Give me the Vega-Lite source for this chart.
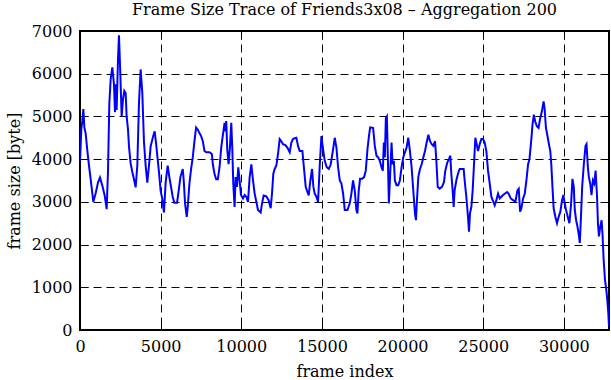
{
  "$schema": "https://vega.github.io/schema/vega-lite/v6.json",
  "width": 529,
  "height": 299,
  "autosize": "none",
  "padding": {"left": 80, "top": 31, "right": 2, "bottom": 50},
  "background": "white",
  "config": {
    "font": "DejaVu Serif",
    "view": {"stroke": "black", "strokeWidth": 2},
    "axis": {"labelFont": "DejaVu Serif", "titleFont": "DejaVu Serif", "labelFontSize": 16, "titleFontSize": 16, "titleFontWeight": "normal", "labelColor": "black", "titleColor": "black"}
  },
  "title": {"text": "Frame Size Trace of Friends3x08 – Aggregation 200", "font": "DejaVu Serif", "fontSize": 16, "fontWeight": "normal", "color": "black", "anchor": "middle", "offset": 5},
  "data": {"values": [
    {"frame": 0, "size": 3950}, {"frame": 83, "size": 4700}, {"frame": 145, "size": 4900}, {"frame": 207, "size": 5170}, {"frame": 269, "size": 4750}, {"frame": 351, "size": 4600}, {"frame": 455, "size": 4200}, {"frame": 558, "size": 3850}, {"frame": 661, "size": 3530}, {"frame": 764, "size": 3200}, {"frame": 826, "size": 3000}, {"frame": 971, "size": 3200}, {"frame": 1116, "size": 3450}, {"frame": 1240, "size": 3570}, {"frame": 1384, "size": 3380}, {"frame": 1529, "size": 3150}, {"frame": 1653, "size": 2830}, {"frame": 1735, "size": 3700}, {"frame": 1818, "size": 5300}, {"frame": 1901, "size": 5870}, {"frame": 2004, "size": 6150}, {"frame": 2107, "size": 5750}, {"frame": 2169, "size": 5100}, {"frame": 2211, "size": 5750}, {"frame": 2273, "size": 5150}, {"frame": 2355, "size": 6330}, {"frame": 2417, "size": 6900}, {"frame": 2500, "size": 6000}, {"frame": 2583, "size": 5000}, {"frame": 2665, "size": 5400}, {"frame": 2748, "size": 5600}, {"frame": 2830, "size": 5550}, {"frame": 2892, "size": 5000}, {"frame": 2975, "size": 4700}, {"frame": 3037, "size": 4300}, {"frame": 3140, "size": 3900}, {"frame": 3244, "size": 3700}, {"frame": 3347, "size": 3530}, {"frame": 3450, "size": 3340}, {"frame": 3554, "size": 3850}, {"frame": 3657, "size": 5320}, {"frame": 3760, "size": 6100}, {"frame": 3863, "size": 5550}, {"frame": 3967, "size": 4400}, {"frame": 4070, "size": 3850}, {"frame": 4173, "size": 3450}, {"frame": 4277, "size": 3850}, {"frame": 4380, "size": 4300}, {"frame": 4545, "size": 4550}, {"frame": 4628, "size": 4650}, {"frame": 4710, "size": 4400}, {"frame": 4793, "size": 4080}, {"frame": 4896, "size": 3700}, {"frame": 5000, "size": 3260}, {"frame": 5103, "size": 3070}, {"frame": 5206, "size": 2750}, {"frame": 5310, "size": 3450}, {"frame": 5436, "size": 3850},
    {"frame": 5540, "size": 3580}, {"frame": 5644, "size": 3350}, {"frame": 5747, "size": 3120}, {"frame": 5851, "size": 2980}, {"frame": 6017, "size": 2980}, {"frame": 6121, "size": 3270}, {"frame": 6225, "size": 3580}, {"frame": 6370, "size": 3770}, {"frame": 6432, "size": 3500}, {"frame": 6515, "size": 2960}, {"frame": 6619, "size": 2650}, {"frame": 6681, "size": 2880}, {"frame": 6785, "size": 3430}, {"frame": 6889, "size": 3770}, {"frame": 6992, "size": 4040}, {"frame": 7096, "size": 4420}, {"frame": 7200, "size": 4740}, {"frame": 7304, "size": 4690}, {"frame": 7407, "size": 4610}, {"frame": 7511, "size": 4540}, {"frame": 7615, "size": 4420}, {"frame": 7719, "size": 4190}, {"frame": 7822, "size": 4160}, {"frame": 8030, "size": 4160}, {"frame": 8175, "size": 4120}, {"frame": 8237, "size": 3880}, {"frame": 8341, "size": 3650}, {"frame": 8445, "size": 3530}, {"frame": 8548, "size": 3530}, {"frame": 8652, "size": 3810}, {"frame": 8756, "size": 4270}, {"frame": 8860, "size": 4570}, {"frame": 8964, "size": 4850}, {"frame": 9026, "size": 4650}, {"frame": 9067, "size": 4890}, {"frame": 9130, "size": 4230}, {"frame": 9213, "size": 3880}, {"frame": 9296, "size": 4270}, {"frame": 9379, "size": 4850}, {"frame": 9441, "size": 4270}, {"frame": 9503, "size": 3430}, {"frame": 9586, "size": 2880}, {"frame": 9648, "size": 3580}, {"frame": 9731, "size": 3350}, {"frame": 9814, "size": 3810}, {"frame": 9897, "size": 3500}, {"frame": 9980, "size": 3160}, {"frame": 10105, "size": 3080}, {"frame": 10209, "size": 3160}, {"frame": 10312, "size": 3120}, {"frame": 10416, "size": 3000}, {"frame": 10520, "size": 3580}, {"frame": 10624, "size": 3880}, {"frame": 10727, "size": 3500}, {"frame": 10831, "size": 3190}, {"frame": 10935, "size": 3000},
    {"frame": 11035, "size": 2810}, {"frame": 11201, "size": 2750}, {"frame": 11283, "size": 2960}, {"frame": 11387, "size": 3150}, {"frame": 11553, "size": 3130}, {"frame": 11697, "size": 3040}, {"frame": 11822, "size": 2850}, {"frame": 11904, "size": 3190}, {"frame": 11987, "size": 3660}, {"frame": 12070, "size": 3770}, {"frame": 12174, "size": 3850}, {"frame": 12277, "size": 4120}, {"frame": 12381, "size": 4470}, {"frame": 12484, "size": 4420}, {"frame": 12588, "size": 4350}, {"frame": 12732, "size": 4330}, {"frame": 12857, "size": 4270}, {"frame": 13002, "size": 4160}, {"frame": 13105, "size": 4390}, {"frame": 13209, "size": 4470}, {"frame": 13312, "size": 4490}, {"frame": 13416, "size": 4500}, {"frame": 13519, "size": 4310}, {"frame": 13623, "size": 4190}, {"frame": 13788, "size": 4190}, {"frame": 13892, "size": 3770}, {"frame": 13995, "size": 3350}, {"frame": 14099, "size": 3230}, {"frame": 14181, "size": 3150}, {"frame": 14285, "size": 3500}, {"frame": 14388, "size": 3770}, {"frame": 14471, "size": 3350}, {"frame": 14554, "size": 3190}, {"frame": 14658, "size": 3120}, {"frame": 14761, "size": 3000}, {"frame": 14865, "size": 3850}, {"frame": 14968, "size": 4540}, {"frame": 15072, "size": 4230}, {"frame": 15175, "size": 3960}, {"frame": 15299, "size": 3810}, {"frame": 15423, "size": 3770}, {"frame": 15547, "size": 3880}, {"frame": 15692, "size": 4230}, {"frame": 15796, "size": 4500}, {"frame": 15900, "size": 4270}, {"frame": 16003, "size": 3810}, {"frame": 16107, "size": 3500}, {"frame": 16210, "size": 3430}, {"frame": 16314, "size": 3190}, {"frame": 16417, "size": 2810}, {"frame": 16583, "size": 2810},
    {"frame": 16723, "size": 2960}, {"frame": 16826, "size": 3190}, {"frame": 16930, "size": 3500}, {"frame": 17034, "size": 3270}, {"frame": 17138, "size": 2810}, {"frame": 17200, "size": 2730}, {"frame": 17283, "size": 3270}, {"frame": 17366, "size": 3540}, {"frame": 17491, "size": 3540}, {"frame": 17615, "size": 3580}, {"frame": 17719, "size": 3730}, {"frame": 17823, "size": 4230}, {"frame": 17926, "size": 4570}, {"frame": 17989, "size": 4740}, {"frame": 18072, "size": 4740}, {"frame": 18175, "size": 4730}, {"frame": 18279, "size": 4310}, {"frame": 18383, "size": 4080}, {"frame": 18487, "size": 4040}, {"frame": 18590, "size": 3960}, {"frame": 18694, "size": 3810}, {"frame": 18777, "size": 3730}, {"frame": 18839, "size": 4390}, {"frame": 18901, "size": 4040}, {"frame": 18964, "size": 4960}, {"frame": 19026, "size": 5000}, {"frame": 19088, "size": 4040}, {"frame": 19150, "size": 2960}, {"frame": 19233, "size": 3660}, {"frame": 19317, "size": 4390}, {"frame": 19379, "size": 3880}, {"frame": 19462, "size": 3960}, {"frame": 19524, "size": 3500}, {"frame": 19628, "size": 3390}, {"frame": 19731, "size": 3390}, {"frame": 19835, "size": 3500}, {"frame": 19939, "size": 3810}, {"frame": 20043, "size": 4040}, {"frame": 20146, "size": 4160}, {"frame": 20250, "size": 4270}, {"frame": 20354, "size": 4500}, {"frame": 20458, "size": 4190}, {"frame": 20561, "size": 3810}, {"frame": 20665, "size": 3270}, {"frame": 20769, "size": 2730}, {"frame": 20831, "size": 2570}, {"frame": 20893, "size": 3040}, {"frame": 20976, "size": 3580}, {"frame": 21080, "size": 3770}, {"frame": 21184, "size": 3880}, {"frame": 21288, "size": 4040}, {"frame": 21391, "size": 4190}, {"frame": 21495, "size": 4390}, {"frame": 21599, "size": 4570}, {"frame": 21703, "size": 4420}, {"frame": 21806, "size": 4350}, {"frame": 21910, "size": 4310}, {"frame": 22014, "size": 4420}, {"frame": 22097, "size": 3960}, {"frame": 22180, "size": 3350},
    {"frame": 22298, "size": 3310}, {"frame": 22442, "size": 3350}, {"frame": 22567, "size": 3460}, {"frame": 22649, "size": 3730}, {"frame": 22774, "size": 3920}, {"frame": 22877, "size": 4000}, {"frame": 22960, "size": 4080}, {"frame": 23022, "size": 3660}, {"frame": 23105, "size": 3270}, {"frame": 23167, "size": 2880}, {"frame": 23229, "size": 3270}, {"frame": 23333, "size": 3500}, {"frame": 23436, "size": 3660}, {"frame": 23540, "size": 3770}, {"frame": 23684, "size": 3770}, {"frame": 23788, "size": 3770}, {"frame": 23850, "size": 3500}, {"frame": 23954, "size": 3120}, {"frame": 24057, "size": 2650}, {"frame": 24119, "size": 2300}, {"frame": 24181, "size": 2730}, {"frame": 24264, "size": 2880}, {"frame": 24347, "size": 3270}, {"frame": 24430, "size": 3880}, {"frame": 24512, "size": 4500}, {"frame": 24595, "size": 4350}, {"frame": 24678, "size": 4190}, {"frame": 24782, "size": 4350}, {"frame": 24885, "size": 4470}, {"frame": 24989, "size": 4470}, {"frame": 25092, "size": 4390}, {"frame": 25196, "size": 4190}, {"frame": 25299, "size": 3730}, {"frame": 25403, "size": 3430}, {"frame": 25506, "size": 3120}, {"frame": 25630, "size": 3000}, {"frame": 25713, "size": 2920}, {"frame": 25817, "size": 3040}, {"frame": 25920, "size": 3190}, {"frame": 26024, "size": 3080}, {"frame": 26127, "size": 3120}, {"frame": 26231, "size": 3160}, {"frame": 26334, "size": 3190}, {"frame": 26479, "size": 3230}, {"frame": 26582, "size": 3190}, {"frame": 26707, "size": 3080}, {"frame": 26852, "size": 3040}, {"frame": 26996, "size": 3000}, {"frame": 27121, "size": 3270}, {"frame": 27204, "size": 3310}, {"frame": 27286, "size": 2770}, {"frame": 27369, "size": 2850}, {"frame": 27473, "size": 3080}, {"frame": 27576, "size": 3190}, {"frame": 27680, "size": 3500}, {"frame": 27783, "size": 3880},
    {"frame": 27870, "size": 4000}, {"frame": 27974, "size": 4420}, {"frame": 28058, "size": 4810}, {"frame": 28141, "size": 5040}, {"frame": 28224, "size": 4880}, {"frame": 28328, "size": 4770}, {"frame": 28432, "size": 4730}, {"frame": 28536, "size": 4960}, {"frame": 28640, "size": 5120}, {"frame": 28744, "size": 5350}, {"frame": 28806, "size": 5190}, {"frame": 28890, "size": 4730}, {"frame": 28973, "size": 4570}, {"frame": 29056, "size": 4390}, {"frame": 29160, "size": 4190}, {"frame": 29222, "size": 3880}, {"frame": 29306, "size": 3270}, {"frame": 29368, "size": 2850}, {"frame": 29472, "size": 2650}, {"frame": 29576, "size": 2500}, {"frame": 29680, "size": 2650}, {"frame": 29784, "size": 2770}, {"frame": 29888, "size": 3040}, {"frame": 29971, "size": 3160}, {"frame": 30054, "size": 2960}, {"frame": 30138, "size": 2810}, {"frame": 30242, "size": 2650}, {"frame": 30346, "size": 2500}, {"frame": 30450, "size": 2960}, {"frame": 30533, "size": 3540}, {"frame": 30616, "size": 3350}, {"frame": 30678, "size": 2810}, {"frame": 30762, "size": 2570}, {"frame": 30845, "size": 2420}, {"frame": 30928, "size": 2230}, {"frame": 30990, "size": 2040}, {"frame": 31053, "size": 2570}, {"frame": 31136, "size": 3350}, {"frame": 31240, "size": 3880}, {"frame": 31344, "size": 4310}, {"frame": 31406, "size": 4350}, {"frame": 31490, "size": 3810}, {"frame": 31552, "size": 3580}, {"frame": 31635, "size": 3430}, {"frame": 31718, "size": 3160}, {"frame": 31802, "size": 3500}, {"frame": 31885, "size": 3430}, {"frame": 31968, "size": 3730}, {"frame": 32051, "size": 3190}, {"frame": 32114, "size": 2500}, {"frame": 32176, "size": 2190}, {"frame": 32259, "size": 2420}, {"frame": 32342, "size": 2570}, {"frame": 32405, "size": 2190}, {"frame": 32467, "size": 1650}, {"frame": 32550, "size": 1180}, {"frame": 32634, "size": 940}, {"frame": 32696, "size": 700}, {"frame": 32758, "size": 390}, {"frame": 32800, "size": 80}
  ]},
  "layer": [
    {
      "mark": {"type": "line", "color": "#0000ff", "strokeWidth": 2, "clip": true},
      "encoding": {
        "x": {"field": "frame", "type": "quantitative", "scale": {"domain": [0, 32800], "nice": false, "zero": false},
          "axis": {"title": "frame index", "values": [0, 5000, 10000, 15000, 20000, 25000, 30000], "format": "d", "grid": true, "gridColor": "black", "gridDash": [8, 5], "gridWidth": 1, "gridOpacity": 1, "domain": false, "ticks": true, "tickSize": -8, "tickColor": "black", "tickWidth": 1, "labelPadding": 16, "titlePadding": 9, "labelFlush": false}},
        "y": {"field": "size", "type": "quantitative", "scale": {"domain": [0, 7000], "nice": false},
          "axis": {"title": "frame size [byte]", "values": [0, 1000, 2000, 3000, 4000, 5000, 6000, 7000], "format": "d", "grid": true, "gridColor": "black", "gridDash": [8, 5], "gridWidth": 1, "gridOpacity": 1, "domain": false, "ticks": true, "tickSize": -8, "tickColor": "black", "tickWidth": 1, "labelPadding": 16, "titlePadding": 9, "labelFlush": false}}
      }
    },
    {
      "mark": {"type": "line", "opacity": 0},
      "encoding": {
        "x": {"field": "frame", "type": "quantitative",
          "axis": {"orient": "top", "title": null, "labels": false, "values": [0, 5000, 10000, 15000, 20000, 25000, 30000], "grid": false, "domain": false, "ticks": true, "tickSize": -8, "tickColor": "black"}},
        "y": {"field": "size", "type": "quantitative",
          "axis": {"orient": "right", "title": null, "labels": false, "values": [0, 1000, 2000, 3000, 4000, 5000, 6000, 7000], "grid": false, "domain": false, "ticks": true, "tickSize": -8, "tickColor": "black"}}
      }
    }
  ],
  "resolve": {"axis": {"x": "independent", "y": "independent"}}
}
